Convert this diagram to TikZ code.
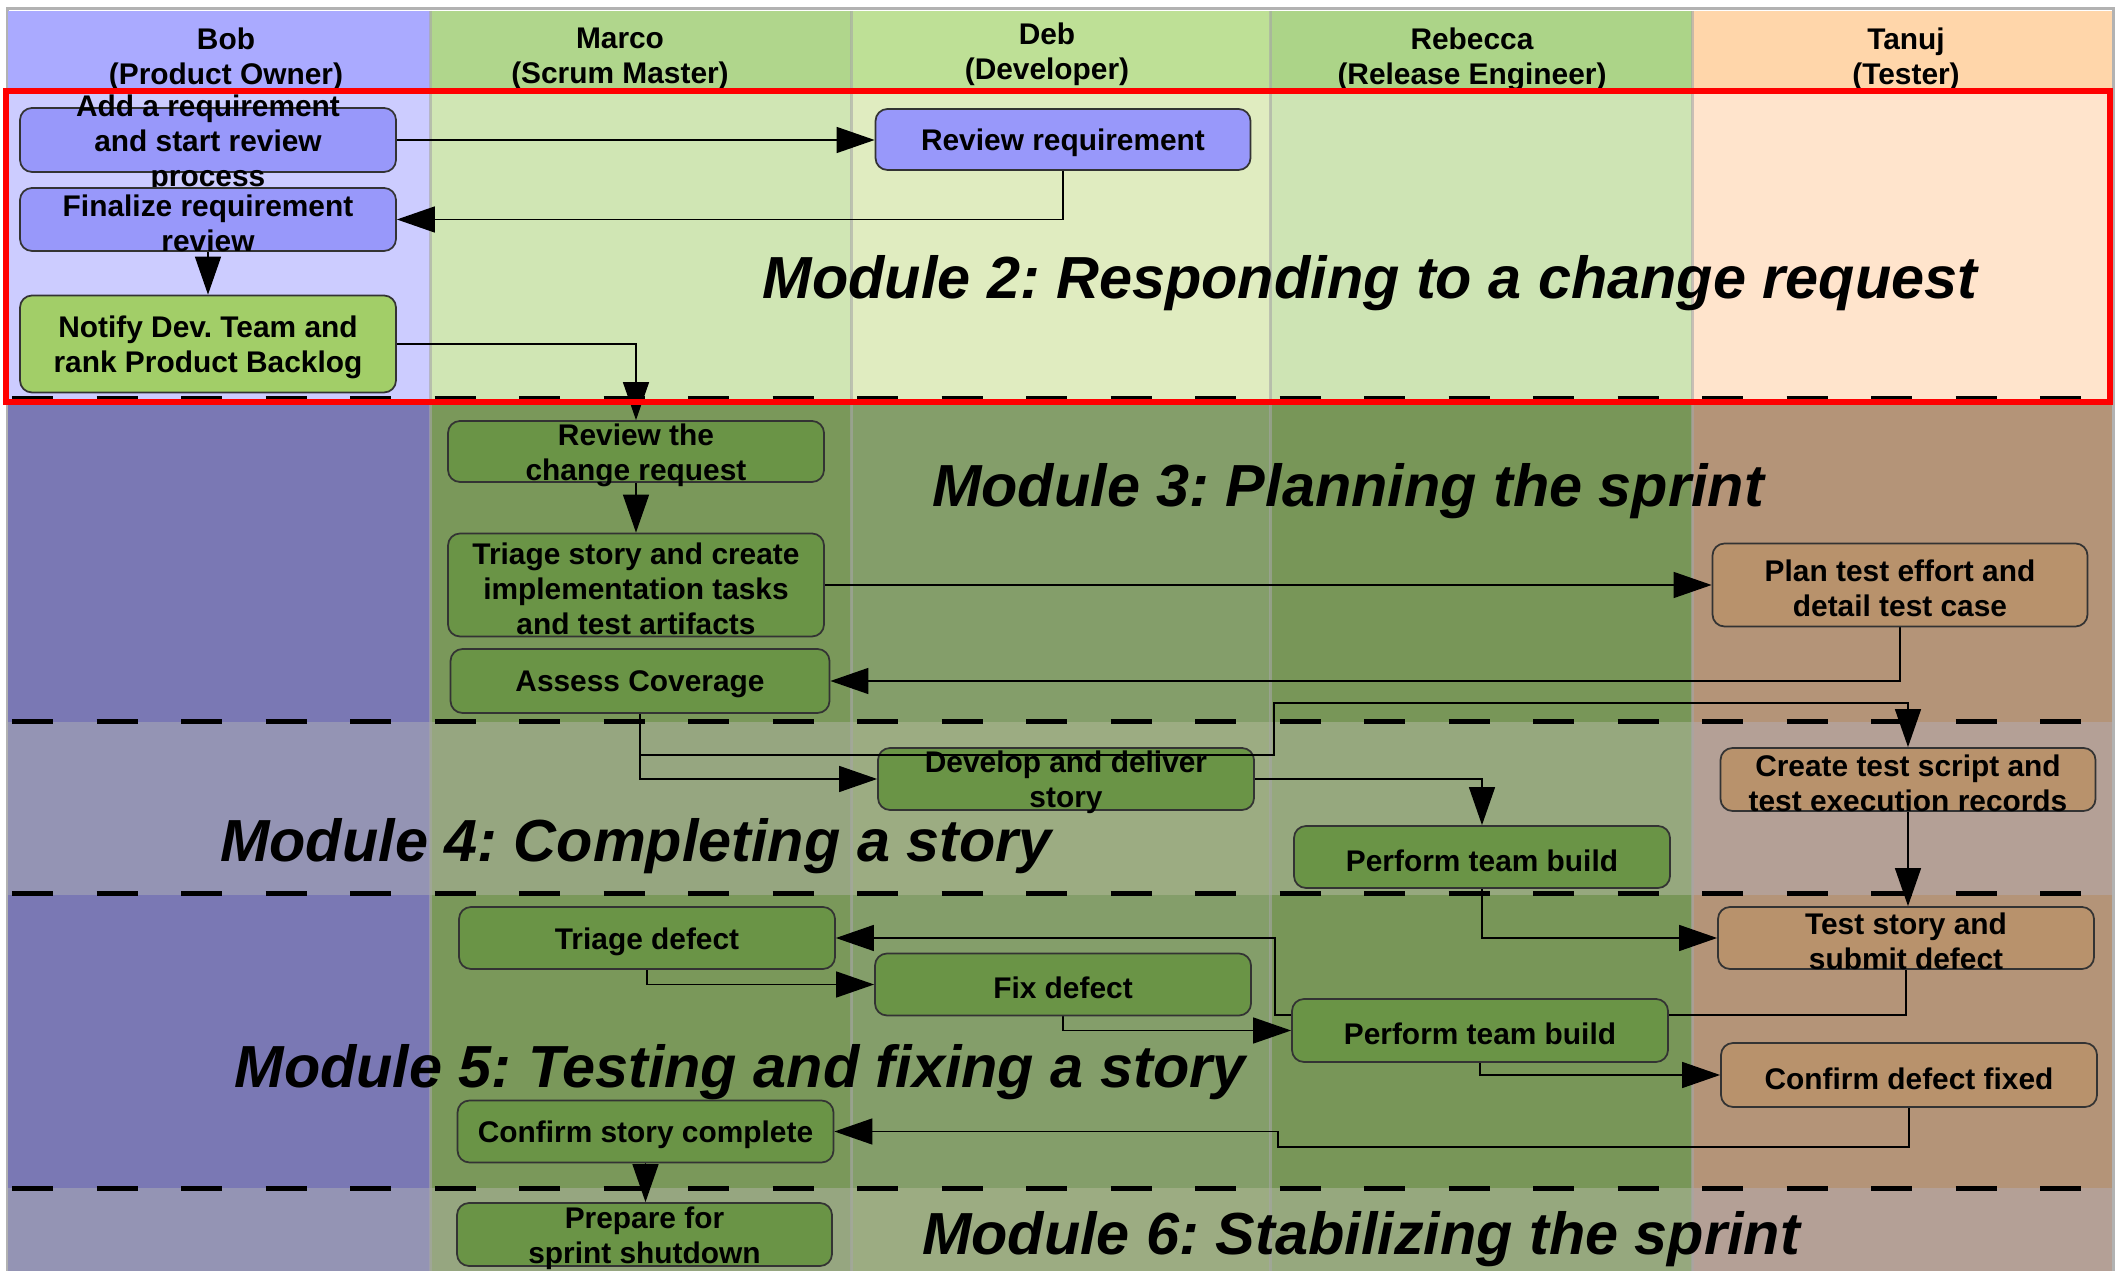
\documentclass[tikz,border=0pt]{standalone}
\usepackage{fontspec}
\setmainfont{Liberation Sans}
\frenchspacing
\usetikzlibrary{calc,positioning,arrows.meta}
\pgfdeclarelayer{back}
\pgfsetlayers{back,main}

% lane colours: H header, L module 2, D modules 3 and 5, G modules 4 and 6
\definecolor{bobH}{RGB}{170,170,255}
\definecolor{bobL}{RGB}{204,204,255}
\definecolor{bobD}{RGB}{122,120,180}
\definecolor{bobG}{RGB}{148,148,180}
\definecolor{marcoH}{RGB}{176,214,140}
\definecolor{marcoL}{RGB}{208,230,180}
\definecolor{marcoD}{RGB}{122,152,90}
\definecolor{marcoG}{RGB}{150,166,128}
\definecolor{debH}{RGB}{190,224,150}
\definecolor{debL}{RGB}{224,236,192}
\definecolor{debD}{RGB}{132,158,106}
\definecolor{debG}{RGB}{156,172,130}
\definecolor{rebeccaH}{RGB}{172,212,136}
\definecolor{rebeccaL}{RGB}{206,228,180}
\definecolor{rebeccaD}{RGB}{120,150,88}
\definecolor{rebeccaG}{RGB}{150,168,126}
\definecolor{tanujH}{RGB}{255,214,170}
\definecolor{tanujL}{RGB}{255,228,204}
\definecolor{tanujD}{RGB}{180,148,120}
\definecolor{tanujG}{RGB}{180,160,150}
\definecolor{reqblue}{RGB}{152,152,250}
\definecolor{notifygreen}{RGB}{162,206,104}
\definecolor{taskgreen}{RGB}{106,148,70}
\definecolor{testtan}{RGB}{184,146,108}

\newcommand{\taskfont}{\bfseries\fontsize{8.5}{10}\selectfont}
\newcommand{\modfont}{\bfseries\itshape\fontsize{16.9}{20}\selectfont}

\tikzset{
  task/.style={draw=black!80, line width=0.5pt, rounded corners=0.12cm,
    minimum width=3.76cm, minimum height=0.62cm, inner sep=0pt, fill=taskgreen},
  tasktext/.style={align=center, font=\taskfont, inner sep=0pt, yshift=-0.035cm},
  lanehead/.style={align=center, font=\taskfont, inner sep=0pt},
  modtitle/.style={font=\modfont, anchor=base, inner sep=0pt},
  flow/.style={line width=0.4pt, -{Triangle[length=0.38cm,width=0.26cm]}},
  moduleline/.style={line width=0.05cm, dash pattern=on 0.41cm off 0.435cm},
  lanesep/.style={line width=0.03cm, draw=black!35, opacity=0.6}
}

\begin{document}
\begin{tikzpicture}
  \useasboundingbox (0,0) rectangle (21.18,-12.71);

  \begin{pgfonlayer}{back}
  \fill[white] (0,0) rectangle (21.18,-12.71);
  \draw[black!30, line width=0.03cm] (0.07,-12.71) |- (21.13,-0.09) -- (21.13,-12.71);
  % swim lanes, banded by module
  \foreach \xa/\xb/\lane in {0.08/4.30/bob, 4.30/8.51/marco, 8.51/12.70/deb,
      12.70/16.92/rebecca, 16.92/21.12/tanuj}{
    \fill[fill=\lane H] (\xa,-0.11) rectangle (\xb,-0.92);
    \fill[fill=\lane L] (\xa,-0.92) rectangle (\xb,-4.00);
    \fill[fill=\lane D] (\xa,-4.00) rectangle (\xb,-7.22);
    \fill[fill=\lane G] (\xa,-7.22) rectangle (\xb,-8.95);
    \fill[fill=\lane D] (\xa,-8.95) rectangle (\xb,-11.88);
    \fill[fill=\lane G] (\xa,-11.88) rectangle (\xb,-12.71);
  }
  \foreach \x in {4.30,8.51,12.70,16.92}
    \draw[lanesep] (\x,-0.11) -- (\x,-12.71);
  \end{pgfonlayer}

  \node[lanehead] (hbob) at (2.26,-0.59) {Bob\\(Product Owner)};
  \node[lanehead] (hmarco) at (6.20,-0.59) {Marco\\(Scrum Master)};
  \node[lanehead] (hdeb) at (10.47,-0.545) {Deb\\(Developer)};
  \node[lanehead] (hrebecca) at (14.72,-0.59) {Rebecca\\(Release Engineer)};
  \node[lanehead] (htanuj) at (19.06,-0.59) {Tanuj\\(Tester)};

  % bends of the long connectors
  \coordinate (bendtest) at (12.75,-10.15);
  \coordinate (bendconf) at (12.78,-11.47);
  \coordinate (bendlow) at (12.74,-7.55);
  \coordinate (bendhigh) at (12.74,-7.03);

  % Module 2
  \node[task, fill=reqblue, minimum height=0.64cm,
    label={[tasktext]center:Add a requirement\\and start review\\process}] (addreq) at (2.08,-1.40) {};
  \node[task, fill=reqblue, minimum height=0.63cm,
    label={[tasktext]center:Finalize requirement\\review}] (finreq) at (2.08,-2.195) {};
  \node[task, fill=notifygreen, minimum height=0.97cm,
    label={[tasktext]center:Notify Dev. Team and\\rank Product Backlog}] (notify) at (2.08,-3.44) {};
  \node[task, fill=reqblue, minimum width=3.75cm, minimum height=0.61cm,
    label={[tasktext]center:Review requirement}] (revreq) at (10.63,-1.395) {};

  % Module 3
  \node[task, minimum height=0.61cm,
    label={[tasktext]center:Review the\\change request}] (revcr) at (6.36,-4.515) {};
  \node[task, minimum height=1.03cm,
    label={[tasktext]center:Triage story and create\\implementation tasks\\and test artifacts}] (triage) at (6.36,-5.85) {};
  \node[task, minimum width=3.79cm, minimum height=0.64cm,
    label={[tasktext]center:Assess Coverage}] (assess) at (6.40,-6.81) {};
  \node[task, fill=testtan, minimum width=3.75cm, minimum height=0.83cm,
    label={[tasktext]center:Plan test effort and\\detail test case}] (plantest) at (19.00,-5.85) {};

  % Module 4
  \node[task, label={[tasktext]center:Develop and deliver\\story}] (develop) at (10.66,-7.79) {};
  \node[task, fill=testtan, minimum width=3.75cm, minimum height=0.63cm,
    label={[tasktext]center:Create test script and\\test execution records}] (create) at (19.08,-7.795) {};
  \node[task, label={[tasktext]center:Perform team build}] (build1) at (14.82,-8.57) {};

  % Module 5
  \node[task, label={[tasktext]center:Triage defect}] (triagedef) at (6.47,-9.38) {};
  \node[task, label={[tasktext]center:Fix defect}] (fixdef) at (10.63,-9.845) {};
  \node[task, minimum height=0.63cm,
    label={[tasktext]center:Perform team build}] (build2) at (14.80,-10.305) {};
  \node[task, fill=testtan,
    label={[tasktext]center:Test story and\\submit defect}] (teststory) at (19.06,-9.38) {};
  \node[task, fill=testtan, minimum height=0.64cm,
    label={[tasktext]center:Confirm defect fixed}] (confdef) at (19.09,-10.75) {};
  \node[task, label={[tasktext]center:Confirm story complete}] (confstory) at (6.455,-11.315) {};

  % Module 6
  \node[task, minimum width=3.75cm, minimum height=0.63cm,
    label={[tasktext]center:Prepare for\\sprint shutdown}] (prepare) at (6.445,-12.345) {};

  % connectors, behind the boxes
  \begin{pgfonlayer}{back}
  \draw[flow] (addreq.east) -- (addreq.east -| revreq.west);
  \draw[flow] (revreq.south) |- (finreq.east);
  \draw[flow] (finreq.south) -- (finreq.south |- notify.north);
  \draw[flow] (notify.east) -| (revcr.north);
  \draw[flow] (revcr.south) -- (revcr.south |- triage.north);
  \draw[flow] (triage.east) -- (triage.east -| plantest.west);
  \draw[flow] (plantest.south) |- (assess.east);
  \draw[flow] (assess.south) |- (develop.west);
  \draw[flow] (develop.east) -| (build1.north);
  \draw[flow] (create.south) -- (create.south |- teststory.north);
  \draw[flow] (build1.south) |- (teststory.west);
  \draw[flow] (teststory.south) |- (bendtest) |- (triagedef.east);
  \draw[flow] (triagedef.south) |- (fixdef.west);
  \draw[flow] (fixdef.south) |- (build2.west);
  \draw[flow] (build2.south) |- (confdef.west);
  \draw[flow] (confdef.south) |- (bendconf) |- (confstory.east);
  \draw[flow] (confstory.south) -- (confstory.south |- prepare.north);
  \end{pgfonlayer}
  % this one runs over the develop box
  \draw[flow] (assess.south) |- (bendlow) -- (bendhigh) -| (create.north);

  % module borders and titles
  \foreach \y in {3.99,7.22,8.94,11.88}
    \draw[moduleline] (0.12,-\y) -- (21.12,-\y);
  \node[modtitle] (mod2) at (13.70,-2.99) {Module 2: Responding to a change request};
  \node[modtitle] (mod3) at (13.48,-5.07) {Module 3: Planning the sprint};
  \node[modtitle] (mod4) at (6.36,-8.62) {Module 4: Completing a story};
  \node[modtitle] (mod5) at (7.40,-10.88) {Module 5: Testing and fixing a story};
  \node[modtitle] (mod6) at (13.61,-12.54) {Module 6: Stabilizing the sprint};

  \draw[red, line width=0.06cm] (0.06,-0.91) rectangle (21.10,-4.02);
\end{tikzpicture}
\end{document}
